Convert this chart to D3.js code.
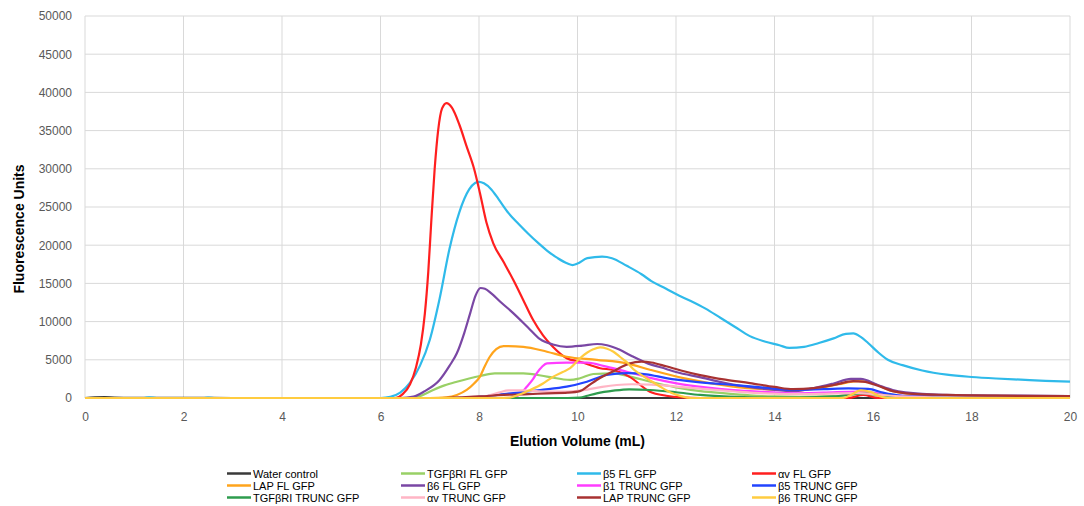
<!DOCTYPE html>
<html>
<head>
<meta charset="utf-8">
<script src="https://cdn.jsdelivr.net/npm/d3@7"></script>
<style>
  html, body { margin: 0; padding: 0; background: #fff; }
  svg { display: block; }
  .tick-label { font-family: "Liberation Sans", Arial, sans-serif; font-size: 12px; fill: #595959; }
  .axis-title { font-family: "Liberation Sans", Arial, sans-serif; font-size: 14px; font-weight: bold; fill: #000; }
  .legend-label { font-family: "Liberation Sans", Arial, sans-serif; font-size: 11px; fill: #000; }
</style>
</head>
<body>
<script>
// Elution profiles: [volume (mL), fluorescence units]
const waterControl = [[0,0],[0.2,80],[0.4,110],[0.6,60],[1.0,30],[2.0,20],[3.0,0],[20,0]];
const tgfbriFL = [[0,0],[6.6,0],[6.8,250],[7.07,1050],[7.3,1650],[7.55,2130],[7.8,2550],[8.02,2880],[8.32,3230],[8.9,3230],[9.38,2800],[9.85,2360],[10.05,2580],[10.32,3140],[10.73,3230],[11.07,2800],[11.5,2100],[12.0,1400],[12.5,900],[13.0,600],[13.5,350],[14.0,200],[14.5,150],[15.2,200],[15.7,500],[16.1,300],[16.5,50],[17.0,0],[20,0]];
const b5FL = [[0,0],[1.2,0],[1.3,80],[1.45,0],[2.4,0],[2.5,50],[2.65,0],[6.0,0],[6.2,150],[6.4,700],[6.6,2000],[6.8,4200],[7.0,7600],[7.2,13000],[7.4,19500],[7.6,24300],[7.8,27300],[7.92,28150],[8.0,28300],[8.1,28100],[8.25,27300],[8.4,26000],[8.6,24200],[8.8,22800],[9.0,21500],[9.2,20300],[9.4,19200],[9.6,18300],[9.8,17600],[9.9,17400],[10.0,17600],[10.2,18300],[10.5,18500],[10.7,18300],[11.0,17300],[11.3,16200],[11.5,15300],[11.8,14300],[12.0,13600],[12.3,12700],[12.6,11700],[12.9,10500],[13.2,9300],[13.5,8100],[13.8,7400],[14.1,6900],[14.3,6550],[14.6,6700],[14.9,7200],[15.2,7800],[15.45,8400],[15.6,8450],[15.75,8000],[15.9,7200],[16.1,6000],[16.3,5000],[16.6,4300],[17.0,3600],[17.5,3050],[18.0,2750],[18.5,2550],[19.0,2400],[19.5,2250],[20.0,2150]];
const avFL = [[0,0],[6.3,0],[6.45,500],[6.6,1800],[6.72,4000],[6.82,7000],[6.9,11000],[6.97,16500],[7.03,23000],[7.1,30000],[7.17,35000],[7.25,37900],[7.34,38600],[7.45,38000],[7.6,35800],[7.75,32900],[7.9,30000],[8.02,26800],[8.15,23000],[8.29,20250],[8.5,17800],[8.7,15400],[8.9,12800],[9.1,10200],[9.3,8200],[9.5,6700],[9.78,5200],[10.05,4750],[10.46,3900],[10.73,3660],[11.05,2800],[11.47,830],[11.8,300],[12.1,80],[12.5,0],[15.5,0],[15.8,400],[16.1,0],[20,0]];
const lapFL = [[0,0],[7.0,0],[7.34,100],[7.55,400],[7.75,1050],[7.9,1900],[8.02,2800],[8.12,4200],[8.22,5400],[8.35,6400],[8.5,6800],[8.9,6700],[9.38,6060],[9.78,5400],[10.39,5000],[11.0,4540],[11.47,3700],[12.15,2600],[13.16,1500],[13.8,1150],[14.38,1000],[14.9,1300],[15.3,1800],[15.7,2200],[16.0,1900],[16.4,900],[17.0,450],[18.0,300],[20,200]];
const b6FL = [[0,0],[6.4,0],[6.67,170],[6.9,900],[7.2,2360],[7.4,4200],[7.55,5850],[7.7,8500],[7.82,11080],[7.93,13400],[8.03,14400],[8.12,14300],[8.25,13700],[8.45,12500],[8.7,11080],[9.0,9200],[9.24,7700],[9.5,7000],[9.78,6700],[10.1,6850],[10.4,7070],[10.6,6900],[10.86,6300],[11.1,5500],[11.4,4600],[11.8,3800],[12.0,3400],[12.5,2700],[13.16,1750],[13.8,1200],[14.38,900],[14.8,1300],[15.2,1900],[15.55,2500],[15.75,2500],[16.1,1700],[16.4,1050],[17.0,550],[18.0,350],[19.0,300],[20,250]];
const b1TRUNC = [[0,0],[8.5,0],[8.7,50],[8.85,600],[8.97,1480],[9.1,2500],[9.17,3230],[9.28,4100],[9.38,4540],[9.78,4620],[10.19,4620],[10.59,4100],[11.0,3440],[11.5,2600],[12.01,1920],[12.6,1400],[13.16,1050],[13.8,800],[14.38,610],[15.0,700],[15.7,850],[16.1,600],[16.5,300],[17.0,150],[18.0,100],[20,100]];
const b5TRUNC = [[0,0],[7.6,0],[8.0,150],[8.4,450],[8.7,650],[9.24,1050],[9.78,1480],[10.19,2130],[10.59,3010],[11.0,3260],[11.4,3100],[11.8,2600],[12.4,2100],[13.16,1700],[13.8,1350],[14.38,1050],[15.0,1150],[15.5,1250],[15.9,1200],[16.2,700],[16.5,350],[17.0,200],[18.0,150],[20,120]];
const tgfbriTRUNC = [[0,0],[9.8,0],[10.05,50],[10.2,300],[10.39,610],[10.73,960],[11.05,1140],[11.47,1050],[12.0,750],[12.49,400],[13.2,150],[13.84,50],[14.5,50],[15.2,200],[15.8,600],[16.2,400],[16.6,100],[17.0,50],[20,0]];
const avTRUNC = [[0,0],[7.8,0],[8.1,200],[8.4,700],[8.6,1000],[8.9,1000],[9.3,850],[9.8,850],[10.2,1100],[10.5,1450],[10.8,1700],[11.1,1800],[11.5,1750],[12.0,1500],[12.6,1150],[13.2,850],[13.8,600],[14.4,500],[15.0,550],[15.7,650],[16.1,450],[16.6,200],[17.2,100],[20,50]];
const lapTRUNC = [[0,0],[7.2,0],[7.6,100],[8.0,200],[8.5,400],[9.0,500],[9.38,610],[9.8,700],[10.05,900],[10.2,1500],[10.39,2360],[10.55,2950],[10.73,3500],[10.9,4100],[11.05,4500],[11.3,4750],[11.5,4650],[11.8,4150],[12.1,3600],[12.49,3000],[13.0,2400],[13.5,1950],[14.0,1450],[14.38,1150],[14.8,1300],[15.2,1700],[15.6,2200],[15.8,2150],[16.1,1600],[16.4,900],[16.8,550],[17.5,400],[18.5,300],[20,250]];
const b6TRUNC = [[0,0],[8.4,0],[8.63,50],[8.8,400],[9.04,1050],[9.3,1900],[9.51,2800],[9.7,3400],[9.85,3900],[10.05,5200],[10.2,5950],[10.32,6370],[10.46,6630],[10.6,6450],[10.73,6060],[10.86,5400],[11.0,4700],[11.13,3800],[11.3,3000],[11.5,2200],[11.68,1480],[11.9,700],[12.1,250],[12.3,0],[15.4,0],[15.55,400],[15.75,1000],[15.95,800],[16.15,200],[16.3,0],[20,0]];

const seriesNames = ["Water control", "TGFβRI FL GFP", "β5 FL GFP", "αv FL GFP",
                     "LAP FL GFP", "β6 FL GFP", "β1 TRUNC GFP", "β5 TRUNC GFP",
                     "TGFβRI TRUNC GFP", "αv TRUNC GFP", "LAP TRUNC GFP", "β6 TRUNC GFP"];
const seriesData = [waterControl, tgfbriFL, b5FL, avFL, lapFL, b6FL, b1TRUNC, b5TRUNC,
                    tgfbriTRUNC, avTRUNC, lapTRUNC, b6TRUNC];
const seriesColors = ["#3a3a3a", "#99d066", "#2fbaea", "#ff1f1f",
                      "#ffa41c", "#7a47a4", "#ff3cff", "#2244ff",
                      "#2e9c4e", "#ffb5c5", "#a83232", "#ffcc40"];

const xTicks = [0, 2, 4, 6, 8, 10, 12, 14, 16, 18, 20];
const yTicks = [0, 5000, 10000, 15000, 20000, 25000, 30000, 35000, 40000, 45000, 50000];

const W = 1084, H = 506;
const plot = { left: 85, right: 1070, top: 16, bottom: 398 };

const svg = d3.select("body").append("svg").attr("width", W).attr("height", H);
svg.append("rect").attr("width", W).attr("height", H).attr("fill", "#fff");

const x = d3.scaleLinear().domain([0, 20]).range([plot.left, plot.right]);
const y = d3.scaleLinear().domain([0, 50000]).range([plot.bottom, plot.top]);

// Gridlines
const grid = svg.append("g");
grid.selectAll("line.h").data(yTicks).join("line")
  .attr("x1", plot.left).attr("x2", plot.right)
  .attr("y1", d => y(d)).attr("y2", d => y(d))
  .attr("stroke", "#d9d9d9").attr("stroke-width", 1);
grid.selectAll("line.v").data(xTicks).join("line")
  .attr("x1", d => x(d)).attr("x2", d => x(d))
  .attr("y1", plot.top).attr("y2", plot.bottom)
  .attr("stroke", "#d9d9d9").attr("stroke-width", 1);

// Axes (labels only; gridlines carry the structure)
const yAxis = svg.append("g").attr("transform", `translate(${plot.left},0)`)
  .call(d3.axisLeft(y).tickValues(yTicks).tickSize(0).tickPadding(13).tickFormat(d3.format("d")));
yAxis.select(".domain").remove();
yAxis.selectAll("text").attr("class", "tick-label").attr("fill", null);

const xAxis = svg.append("g").attr("transform", `translate(0,${plot.bottom})`)
  .call(d3.axisBottom(x).tickValues(xTicks).tickSize(0).tickPadding(14).tickFormat(d3.format("d")));
xAxis.select(".domain").remove();
xAxis.selectAll("text").attr("class", "tick-label").attr("fill", null);

// Profiles
const line = d3.line()
  .x(d => x(d[0]))
  .y(d => y(d[1]))
  .curve(d3.curveMonotoneX);

svg.append("g").selectAll("path").data(seriesData).join("path")
  .attr("d", line)
  .attr("fill", "none")
  .attr("stroke", (d, i) => seriesColors[i])
  .attr("stroke-width", 2.2)
  .attr("stroke-linejoin", "round");

// Axis titles
svg.append("text").attr("class", "axis-title")
  .attr("x", (plot.left + plot.right) / 2).attr("y", 446)
  .attr("text-anchor", "middle").text("Elution Volume (mL)");
svg.append("text").attr("class", "axis-title")
  .attr("transform", "translate(24,229) rotate(-90)")
  .attr("text-anchor", "middle").text("Fluorescence Units");

// Legend: 3 rows x 4 columns
const legendCols = [227, 401, 577, 752];
const legendRows = [473.5, 485.5, 497.5];
const legend = svg.append("g");
const items = legend.selectAll("g").data(seriesNames).join("g")
  .attr("transform", (d, i) => `translate(${legendCols[i % 4]},${legendRows[Math.floor(i / 4)]})`);
items.append("line")
  .attr("x1", 0).attr("x2", 24).attr("y1", 0).attr("y2", 0)
  .attr("stroke", (d, i) => seriesColors[i]).attr("stroke-width", 2.5);
items.append("text").attr("class", "legend-label")
  .attr("x", 26).attr("y", 4).text(d => d);
</script>
</body>
</html>
